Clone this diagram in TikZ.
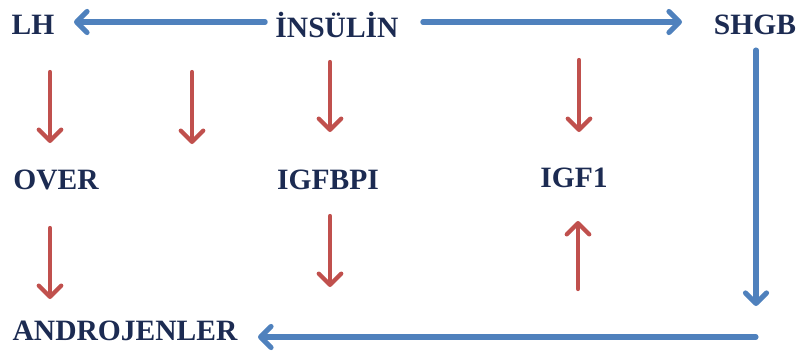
\documentclass[tikz,border=0pt]{standalone}
\usepackage{fontspec}
\setmainfont{Liberation Serif}
\usetikzlibrary{arrows.meta}

\definecolor{navy}{HTML}{1C2B52}
\definecolor{arrblue}{HTML}{4F81BD}
\definecolor{arrred}{HTML}{C0504D}

\begin{document}
\begin{tikzpicture}[
  x=0.025cm, y=-0.025cm,
  every node/.style={inner sep=0pt, text=navy, font=\fontsize{21}{25}\selectfont\bfseries},
  bluearr/.style={line width=3.6pt, color=arrblue, line cap=round,
    -{Straight Barb[length=7.5pt, width=15pt, line cap=round, line join=round]}},
  redarr/.style={line width=3pt, color=arrred, line cap=round,
    -{Straight Barb[length=8pt, width=16pt, line cap=round, line join=round]}}
]
\useasboundingbox (0,0) rectangle (801,351);

\node (lh) at (33,25) {LH};
\node (insulin) at (337,25) {İNSÜLİN};
\node (shgb) at (755,25) {SHGB};

\node (over) at (56,180) {OVER};
\node (igfbpi) at (328,180) {IGFBPI};
\node (igf1) at (574,178) {IGF1};

\node (androjen) at (125,331) {ANDROJENLER};

% blue connectors
\draw[bluearr] (insulin.west) ++(-10,-3) coordinate (lhfrom) -- (74,22) coordinate (lhto);
\draw[bluearr] (insulin.east) ++(24,-3) coordinate (shgbfrom) -- (682,22) coordinate (shgbto);
\coordinate (turn) at (756,337);
\draw[bluearr] (756,50) coordinate (shgbdown) -- (756,306) coordinate (shgbend);
\draw[bluearr] (turn) -- (258,337) coordinate (androto);

% red connectors, top row
\coordinate (r1a) at (50,72);  \coordinate (r1b) at (50,143);
\coordinate (r2a) at (192,72); \coordinate (r2b) at (192,144);
\coordinate (r3a) at (330,62); \coordinate (r3b) at (330,132);
\coordinate (r4a) at (579,60); \coordinate (r4b) at (579,132);
\draw[redarr] (r1a) -- (r1b);
\draw[redarr] (r2a) -- (r2b);
\draw[redarr] (r3a) -- (r3b);
\draw[redarr] (r4a) -- (r4b);

% red connectors, bottom row
\coordinate (r5a) at (50,228);  \coordinate (r5b) at (50,299);
\coordinate (r6a) at (330,216); \coordinate (r6b) at (330,287);
\coordinate (r7a) at (578,289); \coordinate (r7b) at (578,221);
\draw[redarr] (r5a) -- (r5b);
\draw[redarr] (r6a) -- (r6b);
\draw[redarr] (r7a) -- (r7b);

\end{tikzpicture}
\end{document}
